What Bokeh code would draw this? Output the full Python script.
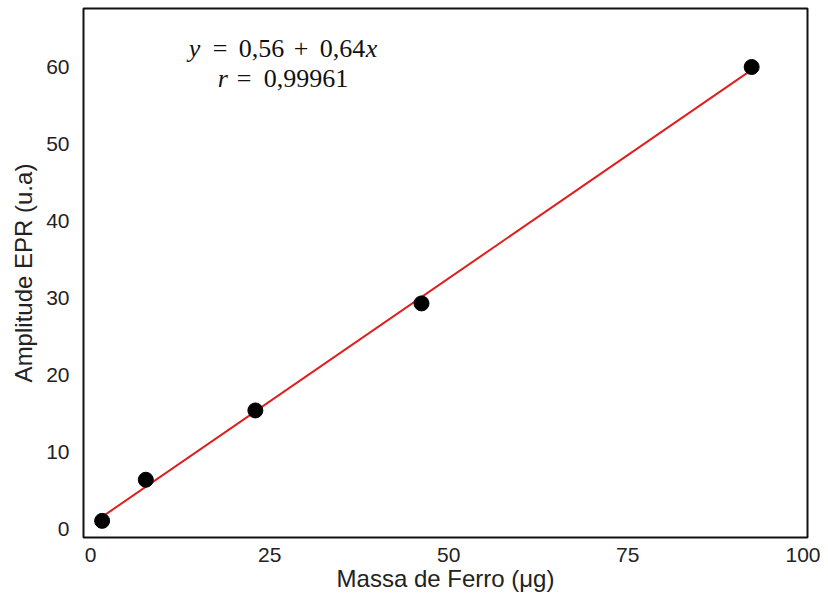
from bokeh.plotting import figure
from bokeh.models import Range1d, FixedTicker, Label
from bokeh.embed import file_html
from bokeh.resources import INLINE

# data
massa = [1.6, 7.7, 23.0, 46.2, 92.3]
amplitude = [1.06, 6.4, 15.4, 29.3, 60.0]
intercept = 0.56
slope = 0.64
fit_x = [min(massa), max(massa)]
fit_y = [intercept + slope * v for v in fit_x]
x_ticks = [0, 25, 50, 75, 100]
y_ticks = [0, 10, 20, 30, 40, 50, 60]

p = figure(width=820, height=594, output_backend="svg", toolbar_location=None,
           x_range=Range1d(-1.0, 100.1), y_range=Range1d(-1.1, 67.6),
           min_border_left=83, min_border_right=13, min_border_top=8, min_border_bottom=53)
p.background_fill_color = "white"
p.border_fill_color = "white"
p.outline_line_color = "#111111"
p.outline_line_width = 2
p.xgrid.visible = False
p.ygrid.visible = False

for ax in (p.xaxis[0], p.yaxis[0]):
    ax.axis_line_color = None
    ax.major_tick_line_color = None
    ax.minor_tick_line_color = None
    ax.major_label_text_font = "Liberation Sans"
    ax.major_label_text_font_size = "21px"
    ax.major_label_text_color = "#222222"
    ax.axis_label_text_font = "Liberation Sans"
    ax.axis_label_text_font_size = "24px"
    ax.axis_label_text_font_style = "normal"
    ax.axis_label_text_color = "#222222"

p.xaxis.ticker = FixedTicker(ticks=x_ticks)
p.yaxis.ticker = FixedTicker(ticks=y_ticks)
p.xaxis.major_label_standoff = 4
p.yaxis.major_label_standoff = 8
p.xaxis.axis_label = "Massa de Ferro (μg)"
p.yaxis.axis_label = "Amplitude EPR (u.a)"
p.xaxis.axis_label_standoff = 0
p.yaxis.axis_label_standoff = 6

p.line(fit_x, fit_y, line_color="#dd1f1f", line_width=2)
p.scatter(massa, amplitude, size=15, color="black")

font = "Liberation Serif"
fs = "26px"
ax0, ay1, ay2 = 13.69, 62.45, 58.45

def piece(txt, y, dx, italic=False):
    p.add_layout(Label(x=ax0, y=y, x_offset=dx, text=txt, text_font=font, text_font_size=fs,
                       text_font_style="italic" if italic else "normal",
                       text_baseline="alphabetic", text_align="left", text_color="#111111"))

# y = 0,56 + 0,64x
piece("y", ay1, 0, True)
piece("=", ay1, 24)
piece("0,56", ay1, 50)
piece("+", ay1, 105)
piece("0,64", ay1, 131)
piece("x", ay1, 177, True)
# r = 0,99961
piece("r", ay2, 29, True)
piece("=", ay2, 48)
piece("0,99961", ay2, 75)

open("out.html", "w").write(file_html(p, INLINE))
